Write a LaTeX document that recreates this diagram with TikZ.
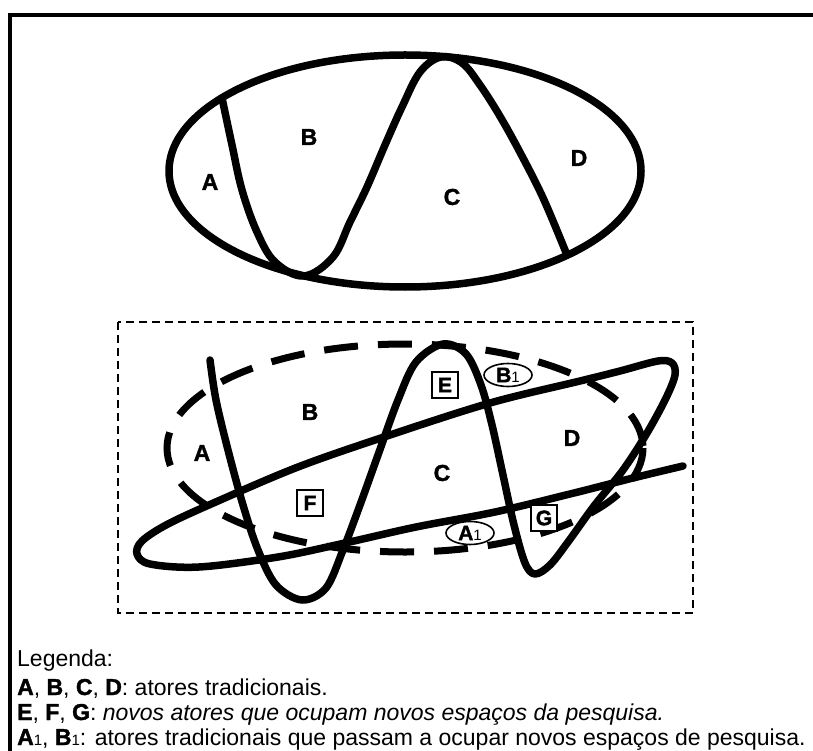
\documentclass[tikz,border=0pt]{standalone}
\usepackage{fontspec}
\setmainfont{Liberation Sans}
\newfontfamily\heavyfont[BoldFeatures={FakeBold=1.6}]{Liberation Sans}
\usetikzlibrary{shapes.geometric}
\newcommand{\lowone}{{\fontsize{15}{15}\selectfont\mdseries 1}}
\newcommand{\hv}[1]{{\heavyfont\bfseries #1}}
\tikzset{
    % region letters and actor marks
    actorLabel/.style={font=\fontsize{23}{23}\selectfont\heavyfont\bfseries, inner sep=0pt},
    newActor/.style={draw, fill=white, line width=1.6pt, minimum size=26pt, inner sep=1pt, font=\fontsize{21}{21}\selectfont\heavyfont\bfseries},
    movedActor/.style={ellipse, draw, fill=white, line width=1.6pt, minimum width=48pt, minimum height=23pt, inner sep=0pt, font=\fontsize{21}{21}\selectfont\heavyfont\bfseries},
    % line styles
    thickCurve/.style={line width=7.5pt, line cap=round, line join=round},
    oldField/.style={line width=7pt, dash pattern=on 34pt off 20pt},
    frameLine/.style={line width=4pt},
    fieldBox/.style={line width=1.8pt, dash pattern=on 8pt off 5pt},
    legendLine/.style={anchor=base west, inner sep=0pt, font=\fontsize{23}{23}\selectfont}
}

\begin{document}
\begin{tikzpicture}[x=1pt, y=-1pt]
    \useasboundingbox (0,0) rectangle (813,751);

    % Outer frame
    \draw[frameLine] (10,751) -- (10,15) -- (813,15);

    % Traditional field
    \draw[thickCurve] (405,171) ellipse [x radius=236, y radius=116];
    \draw[thickCurve] plot[smooth, tension=0.6] coordinates {
        (222,98) (232,145) (242,190) (257,232) (275,262) (304,276) (333,257)
        (350,222) (367,187) (385,145) (402,107) (420,72) (441,57) (462,63)
        (480,85) (501,118) (523,158) (544,200) (567,255)};
    \node[actorLabel] (topA) at (210,182) {A};
    \node[actorLabel] (topB) at (309,137) {B};
    \node[actorLabel] (topC) at (452,197) {C};
    \node[actorLabel] (topD) at (579,158) {D};

    % New research field
    \draw[fieldBox] (118,322) rectangle (693,613);
    \draw[oldField] (405,448) ellipse [x radius=238, y radius=104];
    \draw[thickCurve] plot[smooth, tension=0.55] coordinates {
        (210,360) (216,400) (228,450) (243,505) (258,550) (276,585) (302,600)
        (326,588) (343,550) (360,505) (378,455) (398,400) (416,362) (443,344)
        (466,354) (481,385) (492,425) (503,475) (514,525) (525,563) (535,574)
        (550,565) (568,542) (594,506) (623,470) (647,433) (666,398) (675,375)
        (672,363) (658,361) (620,371) (580,381) (490,403) (384,437) (298,467)
        (218,501) (168,524) (142,541) (137,554) (150,564) (199,567) (278,557)
        (345,543) (416,527) (495,512) (574,493) (633,478) (683,466)};
    \node[actorLabel] (lowA) at (202,453) {A};
    \node[actorLabel] (lowB) at (310,412) {B};
    \node[actorLabel] (lowC) at (442,473) {C};
    \node[actorLabel] (lowD) at (572,438) {D};
    \node[newActor] (actE) at (445,385) {E};
    \node[newActor] (actF) at (310,503) {F};
    \node[newActor] (actG) at (544,518) {G};
    \node[movedActor] (actB1) at (508,375) {B\lowone};
    \node[movedActor] (actA1) at (470,533) {A\lowone};

    % Legend
    \node[legendLine] (legTitle) at (17,666) {Legenda:};
    \node[legendLine] (legOld) at (17,695) {\hv{A}, \hv{B}, \hv{C}, \hv{D}: atores tradicionais.};
    \node[legendLine] (legNew) at (17,720) {\hv{E}, \hv{F}, \hv{G}: \textit{novos atores que ocupam novos espaços da pesquisa.}};
    \node[legendLine] (legMoved) at (17,745) {\hv{A}\lowone, \hv{B}\lowone: atores tradicionais que passam a ocupar novos espaços de pesquisa.};
\end{tikzpicture}
\end{document}
